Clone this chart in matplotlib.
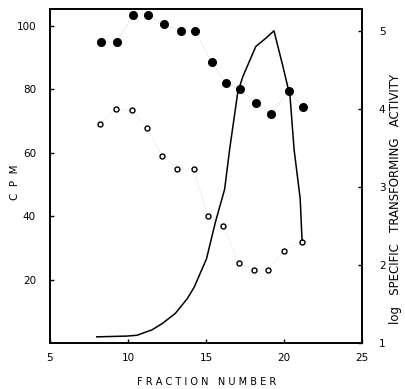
import matplotlib
matplotlib.use("Agg")
import matplotlib.pyplot as plt

# Filled circles (CPM)
filled_x = [8.25, 9.28, 10.32, 11.28, 12.3, 13.4, 14.3, 15.35, 16.25, 17.2, 18.2, 19.15, 20.3, 21.2]
filled_y = [95, 95, 103.5, 103.5, 100.6, 98.4, 98.4, 88.6, 82, 80, 75.6, 72.2, 79.4, 74.4]

# Open circles (CPM)
open_x = [8.2, 9.2, 10.25, 11.2, 12.2, 13.15, 14.2, 15.1, 16.1, 17.1, 18.05, 19.0, 20.0, 21.15]
open_y = [69, 73.7, 73.4, 68, 58.9, 55, 55, 40.2, 37, 25.3, 23.1, 23.1, 29.1, 32]

# Solid line (log specific transforming activity, right axis)
line_x = [8.0, 9.93, 10.57, 11.54, 12.19, 13.03, 13.8, 14.25, 15.03, 15.6, 16.19, 16.51,
          17.03, 17.35, 17.8, 18.19, 18.8, 19.35, 19.93, 20.38, 20.64, 21.03, 21.15]
line_y = [1.08, 1.09, 1.1, 1.17, 1.25, 1.38, 1.57, 1.72, 2.08, 2.55, 2.97, 3.48,
          4.21, 4.41, 4.62, 4.8, 4.9, 5.0, 4.54, 4.16, 3.48, 2.85, 2.32]

x_ticks = [5, 10, 15, 20, 25]
left_ticks = [20, 40, 60, 80, 100]
right_ticks = [1, 2, 3, 4, 5]

fig = plt.figure(figsize=(4.06, 3.89), dpi=100)
ax = fig.add_axes([0.123, 0.118, 0.769, 0.859])
ax2 = ax.twinx()

ax.plot(filled_x, filled_y, linestyle=':', color='#d0d0d0', lw=0.7, zorder=1)
ax.plot(filled_x, filled_y, 'o', color='black', markersize=5.5, zorder=3)
ax.plot(open_x, open_y, linestyle=':', color='#d8d8d8', lw=0.7, zorder=1)
ax.plot(open_x, open_y, 'o', mfc='white', mec='black', markersize=3.6, mew=1.0, zorder=3)
ax2.plot(line_x, line_y, '-', color='black', lw=1.1)

ax.set_xlim(5, 25)
ax.set_ylim(0, 105.4)
ax2.set_ylim(1, 5.28)

ax.set_xticks(x_ticks)
ax.set_yticks(left_ticks)
ax2.set_yticks(right_ticks)

for a in (ax, ax2):
    for s in a.spines.values():
        s.set_linewidth(1.2)
    a.tick_params(direction='in', length=3, width=1, labelsize=7.5, colors='black')
ax.tick_params(axis='y', pad=10)
ax2.tick_params(axis='y', pad=12)
ax.tick_params(axis='x', pad=7)

fig.text(207 / 406, 1 - 382 / 389, 'F R A C T I O N   N U M B E R', fontsize=7,
         ha='center', va='center')
fig.text(15 / 406, 1 - 182 / 389, 'C  P  M', fontsize=7.5, rotation=90,
         ha='center', va='center')
fig.text(396 / 406, 1 - 199 / 389, 'log   SPECIFIC   TRANSFORMING   ACTIVITY', fontsize=8.5,
         rotation=90, ha='center', va='center')

fig.savefig('out.png', dpi=100)
